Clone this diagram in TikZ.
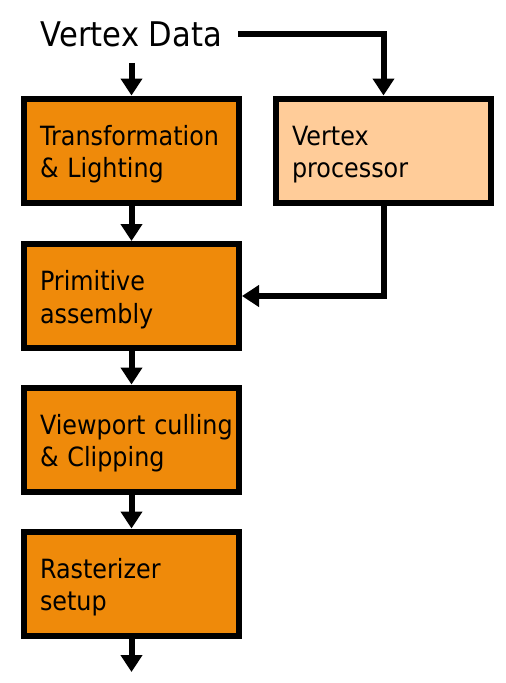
\documentclass[tikz,border=0pt]{standalone}
\usepackage{fontspec}
\setmainfont{DejaVu Sans}[FakeStretch=0.9]
\usepackage{tikz}
\usetikzlibrary{arrows.meta}
\definecolor{stageorange}{RGB}{239,138,10}
\definecolor{procpeach}{RGB}{255,204,153}

\begin{document}
\begin{tikzpicture}[x=1pt, y=-1pt,
  stage/.style={draw=black, line width=6pt, fill=stageorange, minimum width=215pt, minimum height=104pt,
    inner xsep=16pt, text width=183pt, align=left, text height=20pt, text depth=31pt,
    font=\fontsize{26.5}{32.5}\selectfont},
  flow/.style={line width=6pt, -{Triangle[width=21pt, length=17pt]}}]
\useasboundingbox (0,0) rectangle (506,683);

%draw title
\node[anchor=base, inner sep=16pt, text depth=0pt, font=\fontsize{34}{40}\selectfont] (vdata) at (131.5, 46.7) {Vertex Data};

%draw pipeline stages
\node[stage] (tl) at (131.5, 150.5) {Transformation\\\& Lighting};
\node[stage, fill=procpeach] (vp) at (383.5, 150.5) {Vertex\\processor};
\node[stage] (pa) at (131.5, 296) {Primitive\\assembly};
\node[stage] (vc) at (131.5, 439.5) {Viewport~culling\\\& Clipping};
\node[stage] (rs) at (131.5, 583.5) {Rasterizer\\setup};
\coordinate (out) at (131.5, 672);

%draw arrows
\draw[flow] (vdata.south) -- (tl.north);
\draw[flow] (vdata.east) -| (vp.north);
\draw[flow] (tl.south) -- (pa.north);
\draw[flow] (vp.south) |- (pa.east);
\draw[flow] (pa.south) -- (vc.north);
\draw[flow] (vc.south) -- (rs.north);
\draw[flow] (rs.south) -- (out);
\end{tikzpicture}
\end{document}
